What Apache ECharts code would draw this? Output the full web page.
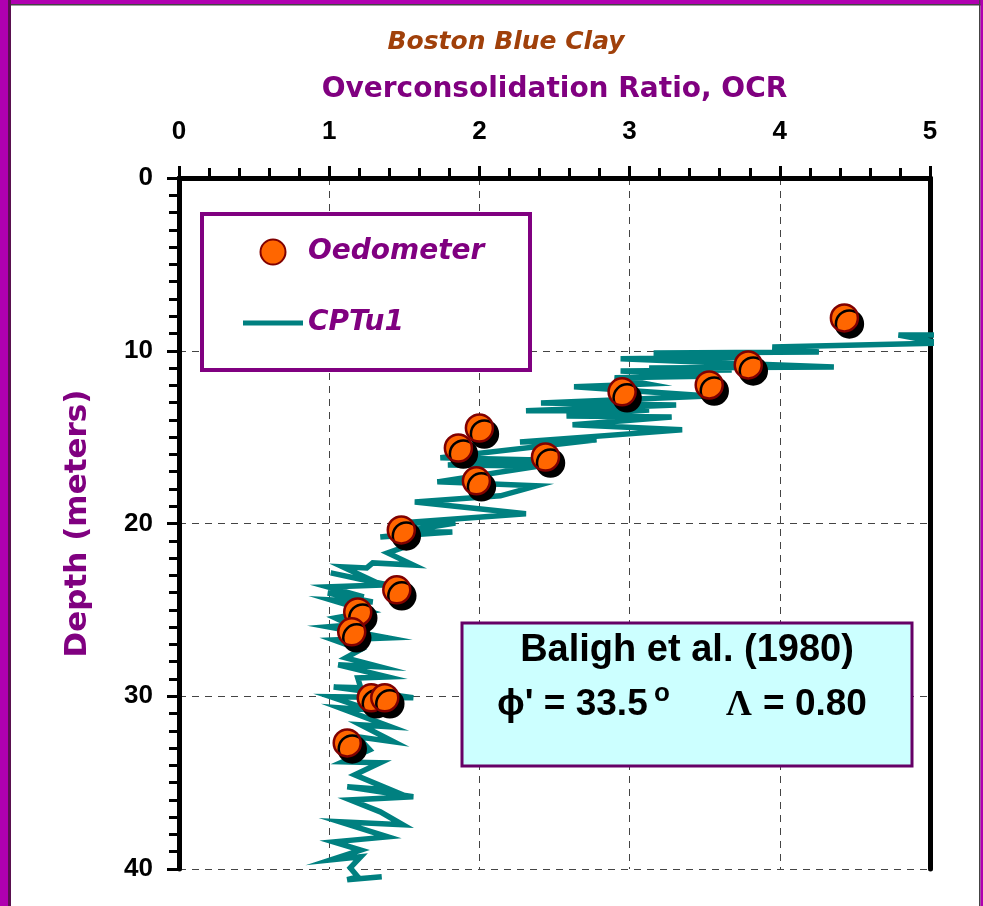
<!DOCTYPE html>
<html>
<head>
<meta charset="utf-8">
<script src="https://cdn.jsdelivr.net/npm/echarts@6/dist/echarts.min.js"></script>
<style>
html,body{margin:0;padding:0;background:#fff;}
#c{width:983px;height:906px;}
</style>
</head>
<body>
<div id="c"></div>
<script>
// ---- data ----
const ocrTicks = [0, 1, 2, 3, 4, 5];
const depthTicks = [0, 10, 20, 30, 40];

const oedoOCR   = [4.43, 3.79, 3.53, 2.95, 2.00, 1.86, 2.44, 1.98, 1.48, 1.45, 1.19, 1.15, 1.28, 1.37, 1.12];
const oedoDepth = [8.10, 10.82, 11.98, 12.38, 14.47, 15.63, 16.15, 17.53, 20.37, 23.84, 25.12, 26.27, 30.09, 30.09, 32.70];

const cptuOCR = [
  5.07, 4.79, 5.07, 3.95, 4.26, 3.16, 3.86, 2.94, 3.46, 4.36,
  3.13, 3.68, 2.94, 3.59, 2.90, 3.12, 2.63, 3.53, 2.41, 3.31,
  2.31, 3.13, 2.58, 3.28, 2.62, 3.35, 2.27, 2.78, 1.74, 2.40,
  1.79, 2.40, 1.72, 2.38, 2.14, 1.57, 2.31, 1.47, 1.84, 1.47,
  1.82, 1.34, 1.60, 1.54, 1.39, 1.56, 1.29, 1.25, 1.09, 1.32,
  1.01, 1.39, 0.99, 1.23, 0.99, 1.29, 1.01, 1.27, 1.04, 1.14,
  0.99, 1.39, 1.03, 1.21, 1.11, 1.34, 1.06, 1.39, 1.19, 1.21,
  1.03, 1.56, 1.01, 1.27, 1.07, 1.41, 1.21, 1.43, 1.19, 1.27,
  1.09, 1.34, 1.17, 1.41, 1.12, 1.56, 1.14, 1.34, 1.49, 1.07,
  1.39, 1.03, 1.21, 1.01, 1.21, 1.14, 1.19, 1.12, 1.35
];
const cptuDepth = [
  9.09, 9.09, 9.55, 9.78, 10.07, 10.13, 10.36, 10.47, 10.65, 10.94,
  11.00, 11.11, 11.17, 11.46, 11.57, 11.92, 12.09, 12.62, 13.02, 13.14,
  13.48, 13.43, 13.77, 13.83, 14.29, 14.58, 15.28, 15.16, 16.20, 16.32,
  16.61, 16.67, 17.59, 17.82, 18.40, 18.75, 19.44, 19.97, 19.97, 20.49,
  20.49, 20.78, 20.54, 21.24, 21.70, 22.40, 22.28, 22.57, 22.51, 23.44,
  22.86, 23.55, 23.67, 24.25, 24.02, 24.54, 24.42, 25.10, 25.46, 25.87,
  25.98, 26.62, 26.74, 27.30, 27.78, 28.30, 28.18, 28.88, 28.94, 29.51,
  29.46, 30.09, 30.03, 30.79, 30.67, 31.77, 31.66, 32.64, 32.35, 33.10,
  33.80, 33.85, 34.55, 35.42, 35.24, 35.82, 36.00, 36.69, 37.44, 37.27,
  38.14, 38.43, 38.90, 39.47, 39.29, 39.93, 40.45, 40.62, 40.45
];

// ---- chart ----
const chart = echarts.init(document.getElementById('c'), null, {renderer: 'canvas'});
const xMin = ocrTicks[0], xMax = ocrTicks[ocrTicks.length - 1];
const yMin = depthTicks[0], yMax = depthTicks[depthTicks.length - 1];
const tickFont = {fontFamily: 'Liberation Sans', fontWeight: 'bold', fontSize: 26, color: '#000'};
const comic = 'DejaVu Sans';
const gridDash = {color: '#444', width: 1, type: [7, 6]};

const option = {
  backgroundColor: '#fff',
  animation: false,
  title: {
    text: 'Boston Blue Clay',
    left: 501, top: 25, textAlign: 'center',
    textStyle: {fontFamily: comic, fontStyle: 'italic', fontWeight: 'bold', fontSize: 25, color: '#a0400a'}
  },
  grid: {left: 179, right: 53, top: 178, bottom: 37, containLabel: false},
  legend: {
    orient: 'vertical', left: 243, top: 234,
    itemWidth: 60, itemHeight: 25, itemGap: 35, itemTextGap: 10,
    padding: 0,
    data: [
      {name: 'Oedometer', icon: 'circle'},
      {name: 'CPTu1', icon: 'path://M0,0 L60,0 L60,5 L0,5 Z'}
    ],
    textStyle: {fontFamily: comic, fontStyle: 'italic', fontWeight: 'bold', fontSize: 28, color: '#800080', lineHeight: 36},
    itemStyle: {shadowBlur: 0, shadowColor: 'rgba(0,0,0,0)', shadowOffsetX: 0, shadowOffsetY: 0},
    z: 10
  },
  xAxis: [{
    type: 'value', position: 'top', min: xMin, max: xMax, interval: 1,
    name: 'Overconsolidation Ratio, OCR', nameLocation: 'middle', nameGap: 74,
    nameTextStyle: {fontFamily: comic, fontWeight: 'bold', fontSize: 28, color: '#800080'},
    axisLine: {show: true, lineStyle: {color: '#000', width: 5}},
    axisTick: {show: true, inside: false, length: 12, lineStyle: {color: '#000', width: 3}},
    minorTick: {show: true, splitNumber: 5, length: 10, lineStyle: {color: '#000', width: 3}},
    axisLabel: Object.assign({margin: 33}, tickFont),
    splitLine: {show: true, lineStyle: gridDash},
    minorSplitLine: {show: false}
  }, {
    type: 'value', position: 'bottom', min: xMin, max: xMax, interval: 1,
    axisLine: {show: true, lineStyle: {color: '#000', width: 5}},
    axisTick: {show: false}, axisLabel: {show: false}, splitLine: {show: false}
  }],
  yAxis: [{
    type: 'value', inverse: true, min: yMin, max: yMax, interval: 10,
    name: 'Depth (meters)', nameLocation: 'middle', nameGap: 86, nameRotate: 90,
    nameTextStyle: {fontFamily: comic, fontWeight: 'bold', fontSize: 31, color: '#800080'},
    axisLine: {show: true, lineStyle: {color: '#000', width: 5}},
    axisTick: {show: true, inside: false, length: 12, lineStyle: {color: '#000', width: 3}},
    minorTick: {show: true, splitNumber: 10, length: 10, lineStyle: {color: '#000', width: 3}},
    axisLabel: Object.assign({margin: 26}, tickFont),
    splitLine: {show: true, lineStyle: gridDash}
  }, {
    type: 'value', inverse: true, min: yMin, max: yMax, interval: 10, position: 'right',
    axisLine: {show: true, onZero: false, lineStyle: {color: '#000', width: 5}},
    axisTick: {show: false}, axisLabel: {show: false}, splitLine: {show: false}
  }],
  series: [{
    name: 'CPTu1', type: 'line', xAxisIndex: 0, yAxisIndex: 0,
    data: cptuOCR.map((v, i) => [v, cptuDepth[i]]),
    symbol: 'none', showSymbol: false, clip: false, smooth: false,
    lineStyle: {color: '#008080', width: 5.5, join: 'miter', opacity: 1},
    itemStyle: {color: '#008080'},
    z: 3
  }, {
    name: 'Oedometer', type: 'scatter', xAxisIndex: 0, yAxisIndex: 0,
    data: oedoOCR.map((v, i) => [v, oedoDepth[i]]),
    symbol: 'circle', symbolSize: 27, clip: false,
    itemStyle: {color: '#ff6600', opacity: 1, borderColor: '#800000', borderWidth: 2.5,
      shadowColor: '#000', shadowBlur: 0, shadowOffsetX: 5, shadowOffsetY: 6},
    emphasis: {disabled: true},
    z: 4
  }],
  graphic: [
    // outer frame
    {type: 'rect', shape: {x: 0, y: 0, width: 983, height: 4}, style: {fill: '#b000b0'}, z: 20, silent: true},
    {type: 'rect', shape: {x: 0, y: 4, width: 983, height: 1.5}, style: {fill: '#444'}, z: 20, silent: true},
    {type: 'rect', shape: {x: 0, y: 0, width: 8, height: 906}, style: {fill: '#b000b0'}, z: 20, silent: true},
    {type: 'rect', shape: {x: 8, y: 0, width: 3, height: 906}, style: {fill: '#5a1050'}, z: 20, silent: true},
    {type: 'rect', shape: {x: 979, y: 0, width: 1.5, height: 906}, style: {fill: '#444'}, z: 20, silent: true},
    {type: 'rect', shape: {x: 980.5, y: 0, width: 3, height: 906}, style: {fill: '#b000b0'}, z: 20, silent: true},
    // legend box
    {type: 'rect', shape: {x: 202, y: 214, width: 328, height: 156},
      style: {fill: '#fff', stroke: '#800080', lineWidth: 4}, z: 5, silent: true},
    // annotation box
    {type: 'rect', shape: {x: 462, y: 623, width: 450, height: 143},
      style: {fill: '#ccffff', stroke: '#660066', lineWidth: 3}, z: 5, silent: true},
    {type: 'text', x: 687, y: 651, z: 6, silent: true,
      style: {text: 'Baligh et al. (1980)', font: 'bold 38px "Liberation Sans", Arial, sans-serif', fill: '#000', align: 'center', verticalAlign: 'middle'}},
    {type: 'text', x: 497, y: 705, z: 6, silent: true,
      style: {text: "\u03D5' = 33.5", font: 'bold 37px "Liberation Sans", Arial, sans-serif', fill: '#000', align: 'left', verticalAlign: 'middle'}},
    {type: 'text', x: 654, y: 694, z: 6, silent: true,
      style: {text: 'o', font: 'bold 26px "Liberation Sans", Arial, sans-serif', fill: '#000', align: 'left', verticalAlign: 'middle'}},
    {type: 'text', x: 726, y: 706, z: 6, silent: true,
      style: {text: '\u039B', font: 'bold 36px "Liberation Serif", "DejaVu Serif", serif', fill: '#000', align: 'left', verticalAlign: 'middle'}},
    {type: 'text', x: 763, y: 705, z: 6, silent: true,
      style: {text: '= 0.80', font: 'bold 37px "Liberation Sans", Arial, sans-serif', fill: '#000', align: 'left', verticalAlign: 'middle'}}
  ]
};
chart.setOption(option);
</script>
</body>
</html>
